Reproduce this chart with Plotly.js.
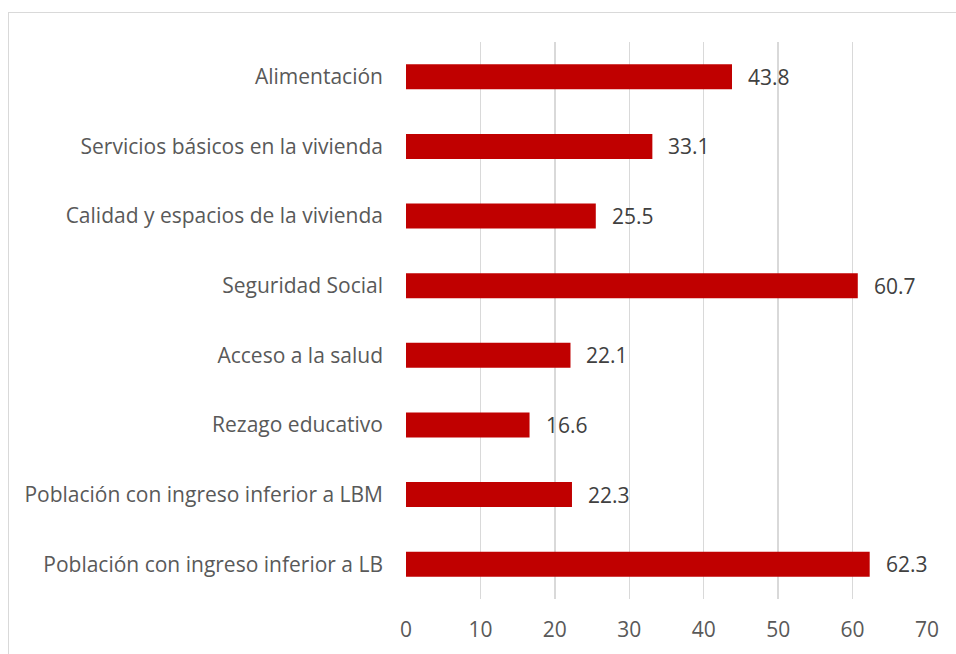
<!DOCTYPE html>
<html>
<head>
<meta charset="utf-8">
<script src="https://cdn.plot.ly/plotly-3.0.1.min.js"></script>
<style>
  html, body { margin: 0; padding: 0; background: #fff; overflow: hidden; }
  #frame { position: absolute; left: 8px; top: 12px; width: 1000px; height: 800px;
           border-top: 1px solid #d9d9d9; border-left: 1px solid #d9d9d9; }
  #chart { position: absolute; left: 0; top: 0; width: 956px; height: 654px; }
</style>
</head>
<body>
<div id="frame"></div>
<div id="chart"></div>
<script>
const categories = [
  "Alimentación",
  "Servicios básicos en la vivienda",
  "Calidad y espacios de la vivienda",
  "Seguridad Social",
  "Acceso a la salud",
  "Rezago educativo",
  "Población con ingreso inferior a LBM",
  "Población con ingreso inferior a LB"
];
const values = [43.8, 33.1, 25.5, 60.7, 22.1, 16.6, 22.3, 62.3];
const xTicks = [0, 10, 20, 30, 40, 50, 60, 70];

const FONT = "'Open Sans', 'Noto Sans', sans-serif";
const FS = 21;

const trace = {
  type: "bar",
  orientation: "h",
  y: categories,
  x: values,
  width: 0.36,
  marker: { color: "#C00000" },
  hoverinfo: "x+y"
};

const annotations = categories.map((c, i) => ({
  x: values[i], y: c, xref: "x", yref: "y",
  text: values[i].toFixed(1),
  showarrow: false, xanchor: "left", yanchor: "middle",
  xshift: 14,
  font: { family: FONT, size: FS, color: "#404040" }
}));

const layout = {
  width: 956, height: 654,
  margin: { l: 406, r: 29, t: 42, b: 55 },
  paper_bgcolor: "rgba(0,0,0,0)",
  plot_bgcolor: "rgba(0,0,0,0)",
  showlegend: false,
  font: { family: FONT, size: FS, color: "#595959" },
  xaxis: {
    range: [0, 70],
    tickvals: xTicks,
    ticktext: xTicks.map(String),
    showgrid: true, gridcolor: "#d9d9d9", gridwidth: 1.3,
    zeroline: false, showline: false, ticks: "",
    ticklabelstandoff: 16,
    tickfont: { family: FONT, size: FS, color: "#595959" },
    fixedrange: true
  },
  yaxis: {
    categoryorder: "array",
    categoryarray: categories.slice().reverse(),
    autorange: true,
    showgrid: false, zeroline: false, showline: false, ticks: "",
    ticklabelstandoff: 22,
    tickfont: { family: FONT, size: FS, color: "#595959" },
    fixedrange: true
  },
  annotations: annotations
};

Plotly.newPlot("chart", [trace], layout, { displayModeBar: false, staticPlot: true });
</script>
</body>
</html>
